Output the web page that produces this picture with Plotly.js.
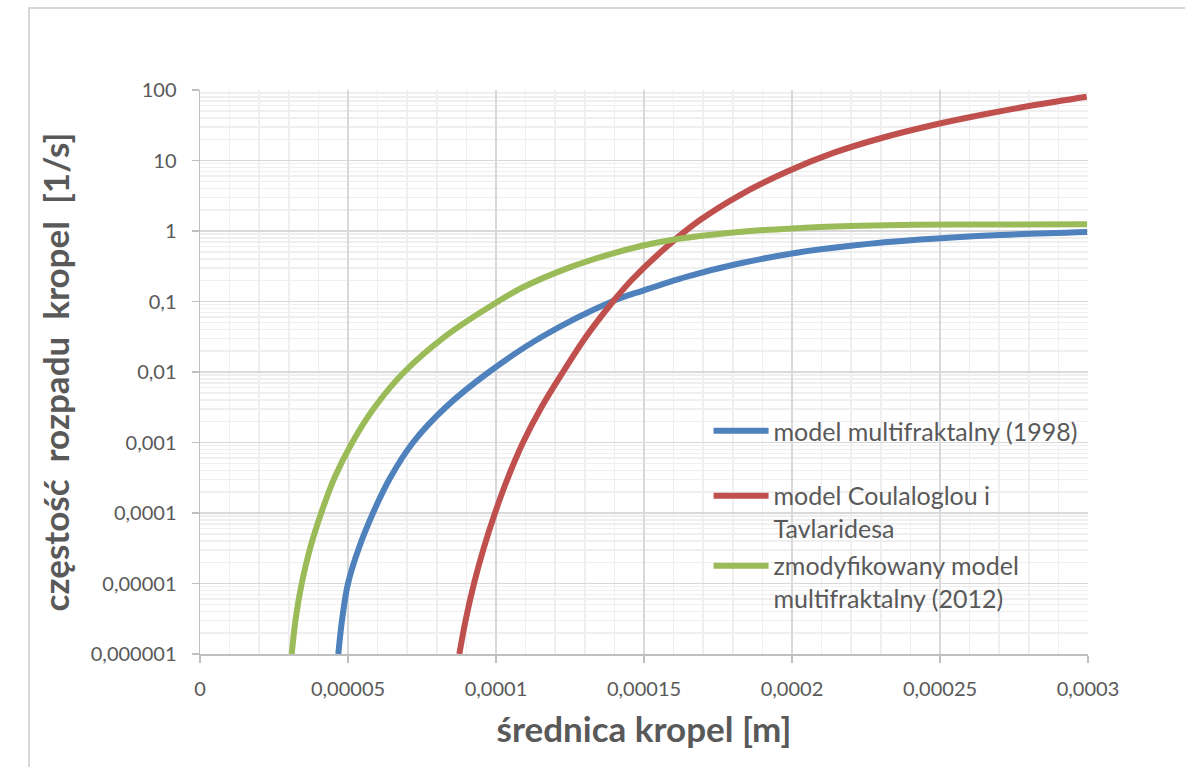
<!DOCTYPE html>
<html>
<head>
<meta charset="utf-8">
<script src="https://cdn.plot.ly/plotly-3.0.1.min.js"></script>
<style>
  html, body { margin: 0; padding: 0; background: #ffffff; overflow: hidden; }
  #chart { position: absolute; left: 0; top: 0; width: 1185px; height: 767px; }
  #frame { position: absolute; left: 28px; top: 7px; width: 1300px; height: 900px;
           border: 2px solid #d9d9d9; pointer-events: none; }
</style>
</head>
<body>
<div id="chart"></div>
<div id="frame"></div>
<script>
// ---- data ----
const seriesNames = [
  'model multifraktalny (1998)',
  'model Coulaloglou i<br>Tavlaridesa',
  'zmodyfikowany model<br>multifraktalny (2012)'
];

const blueX = [4.672e-5, 4.804e-5, 5.0e-5, 5.365e-5, 5.845e-5, 6.426e-5, 7.196e-5, 8.301e-5, 9.764e-5,
               11.551e-5, 13.919e-5, 14.966e-5, 16.453e-5, 18.142e-5, 20.0e-5, 22.06e-5, 24.32e-5,
               27.03e-5, 29.97e-5];
const blueY = [0.000001, 0.00000316, 0.00001, 0.0000316, 0.0001, 0.000316, 0.001, 0.00316, 0.01,
               0.0316, 0.1, 0.143, 0.226, 0.340, 0.480, 0.621, 0.755,
               0.877, 0.968];

const redX = [8.760e-5, 8.983e-5, 9.257e-5, 9.584e-5, 9.966e-5, 10.402e-5, 10.912e-5, 11.534e-5, 12.264e-5,
              13.041e-5, 13.953e-5, 14.584e-5, 15.767e-5, 16.892e-5, 18.243e-5, 19.821e-5, 21.395e-5,
              23.085e-5, 24.774e-5, 26.463e-5, 28.152e-5, 29.956e-5];
const redY = [0.000001, 0.00000316, 0.00001, 0.0000316, 0.0001, 0.000316, 0.001, 0.00316, 0.01,
              0.0316, 0.1, 0.202, 0.598, 1.43, 3.24, 6.93, 12.8,
              21.2, 31.9, 44.9, 60.7, 80.4];

const greenX = [3.098e-5, 3.233e-5, 3.436e-5, 3.720e-5, 4.095e-5, 4.544e-5, 5.142e-5, 5.899e-5, 6.899e-5,
                8.264e-5, 10.068e-5, 10.91e-5, 12.40e-5, 13.75e-5, 14.97e-5, 15.78e-5, 16.89e-5,
                18.58e-5, 20.0e-5, 21.96e-5, 23.65e-5, 25.51e-5, 29.97e-5];
const greenY = [0.000001, 0.00000316, 0.00001, 0.0000316, 0.0001, 0.000316, 0.001, 0.00316, 0.01,
                0.0316, 0.1, 0.159, 0.295, 0.454, 0.622, 0.728, 0.847,
                0.998, 1.089, 1.175, 1.217, 1.236, 1.244];

const xTickVals = [0, 0.00005, 0.0001, 0.00015, 0.0002, 0.00025, 0.0003];
const xTickText = ['0', '0,00005', '0,0001', '0,00015', '0,0002', '0,00025', '0,0003'];
const yTickVals = [0.000001, 0.00001, 0.0001, 0.001, 0.01, 0.1, 1, 10, 100];
const yTickText = ['0,000001', '0,00001', '0,0001', '0,001', '0,01', '0,1', '1', '10', '100'];

const xTitle = 'średnica kropel [m]';
const yTitle = 'częstość\u00a0 rozpadu\u00a0 kropel\u00a0 [1/s]';

// ---- styling / gridline helpers ----
const colors = ['#4f81bd', '#c0504d', '#9bbb59'];
const xMinorVals = [];
for (let i = 1; i < 30; i++) { if (i % 5 !== 0) xMinorVals.push(i * 0.00001); }
const yMinorVals = [];
for (let e = -6; e < 2; e++) { for (let m = 2; m <= 9; m++) yMinorVals.push(m * Math.pow(10, e)); }

const textColor = '#595959';
const fontFam = 'Lato, "Open Sans", sans-serif';

function trace(x, y, i, legendId) {
  return {
    x: x, y: y, type: 'scatter', mode: 'lines', name: seriesNames[i],
    line: { color: colors[i], width: 6, shape: 'spline', smoothing: 1 },
    legend: legendId, cliponaxis: true
  };
}

const data = [
  trace(blueX, blueY, 0, 'legend'),
  trace(redX, redY, 1, 'legend2'),
  trace(greenX, greenY, 2, 'legend3')
];

const legendBase = {
  xanchor: 'left', yanchor: 'top', valign: 'top',
  bgcolor: 'rgba(0,0,0,0)', borderwidth: 0,
  font: { family: fontFam, size: 25, color: textColor },
  itemwidth: 55
};

const layout = {
  width: 1185, height: 767,
  margin: { l: 200, r: 97, t: 90, b: 113 },
  paper_bgcolor: '#ffffff', plot_bgcolor: '#ffffff',
  font: { family: fontFam, color: textColor },
  showlegend: true,
  xaxis: {
    range: [0, 0.0003], type: 'linear',
    tickmode: 'array', tickvals: xTickVals, ticktext: xTickText,
    tickfont: { family: fontFam, size: 20, color: textColor },
    ticks: 'outside', ticklen: 7, tickwidth: 1.5, tickcolor: '#bfbfbf',
    ticklabelstandoff: 9,
    showline: true, linecolor: '#bfbfbf', linewidth: 1.5,
    showgrid: true, gridcolor: '#d9d9d9', gridwidth: 1.5, zeroline: false,
    minor: { tickmode: 'array', tickvals: xMinorVals, showgrid: true, gridcolor: '#efefef', gridwidth: 1.5, ticks: '' },
    title: { text: xTitle, font: { family: fontFam, size: 35, color: textColor, weight: 'bold' }, standoff: 19 },
    fixedrange: true
  },
  yaxis: {
    type: 'log', range: [-6, 2],
    tickmode: 'array', tickvals: yTickVals, ticktext: yTickText,
    tickfont: { family: fontFam, size: 20, color: textColor },
    ticks: 'outside', ticklen: 7, tickwidth: 1.5, tickcolor: '#bfbfbf',
    ticklabelstandoff: 11,
    showline: true, linecolor: '#bfbfbf', linewidth: 1.5,
    showgrid: true, gridcolor: '#d9d9d9', gridwidth: 1.5, zeroline: false,
    minor: { tickmode: 'array', tickvals: yMinorVals, showgrid: true, gridcolor: '#efefef', gridwidth: 1.5, ticks: '' },
    title: { text: yTitle, font: { family: fontFam, size: 35, color: textColor, weight: 'bold' }, standoff: 10 },
    fixedrange: true
  },
  legend: Object.assign({}, legendBase, { x: 0.5727, y: 0.436 }),
  legend2: Object.assign({}, legendBase, { x: 0.5727, y: 0.321 }),
  legend3: Object.assign({}, legendBase, { x: 0.5727, y: 0.197 })
};

Plotly.newPlot('chart', data, layout, { displayModeBar: false, staticPlot: true });
</script>
</body>
</html>
